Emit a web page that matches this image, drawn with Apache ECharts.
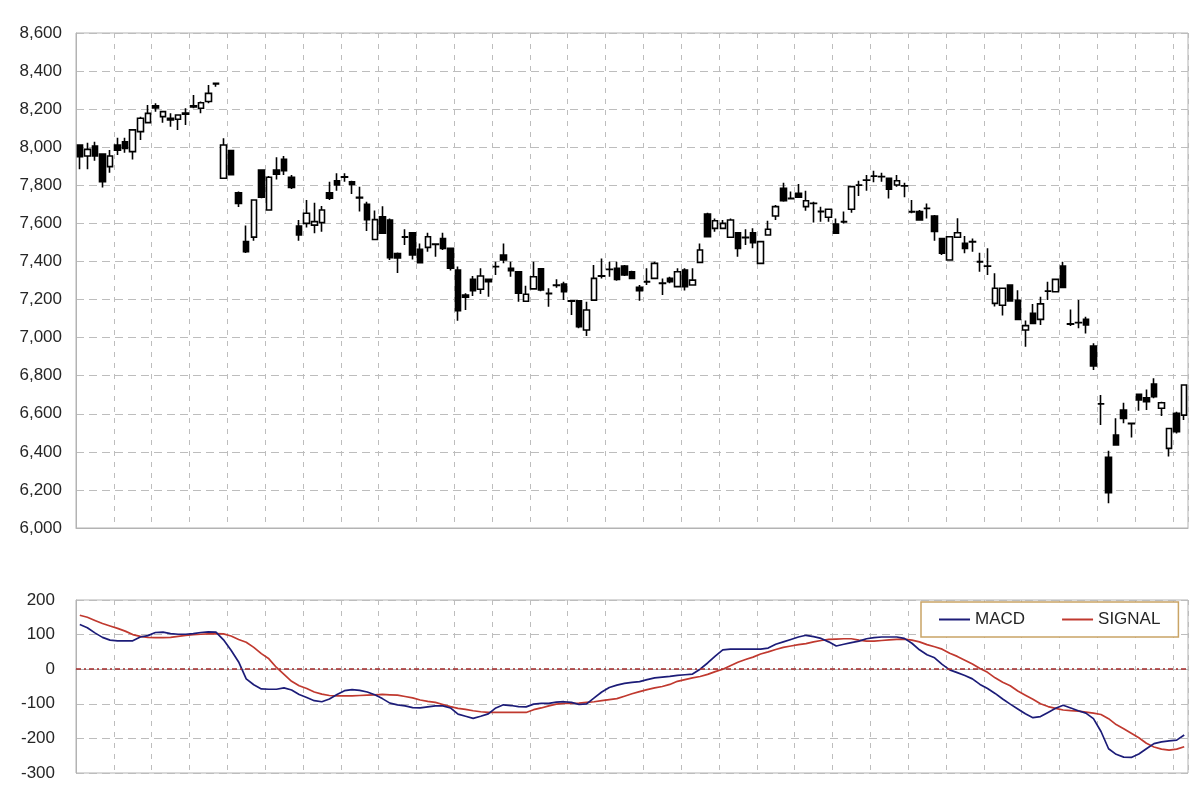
<!DOCTYPE html>
<html>
<head>
<meta charset="utf-8">
<script src="https://cdn.jsdelivr.net/npm/echarts@6/dist/echarts.min.js"></script>
<style>
  html, body { margin: 0; padding: 0; background: #fff; }
  #chart { width: 1200px; height: 785px; }
</style>
</head>
<body>
<div id="chart"></div>
<script>
// --- price data, one entry per session ---
var openPx = [
  8012, 7954, 8006, 7964, 7898, 8012, 8029, 7977, 8082, 8129,
  8218, 8161, 8152, 8147, 8174, 8218, 8205, 8240, 8336, 7837,
  7982, 7761, 7504, 7528, 7880, 7670, 7880, 7936, 7842, 7586,
  7600, 7591, 7604, 7761, 7824, 7845, 7819, 7737, 7700, 7515,
  7635, 7618, 7441, 7530, 7550, 7464, 7474, 7492, 7521, 7469,
  7355, 7224, 7306, 7254, 7306, 7373, 7434, 7364, 7346, 7191,
  7256, 7361, 7233, 7276, 7281, 7194, 7194, 7040, 7197, 7325,
  7359, 7364, 7376, 7346, 7264, 7294, 7311, 7286, 7311, 7268,
  7355, 7276, 7395, 7649, 7574, 7574, 7527, 7551, 7527, 7551,
  7390, 7539, 7639, 7784, 7732, 7758, 7688, 7706, 7663, 7632,
  7597, 7609, 7674, 7801, 7828, 7849, 7846, 7837, 7802, 7797,
  7662, 7662, 7679, 7639, 7521, 7408, 7527, 7495, 7504, 7399,
  7376, 7180, 7170, 7276, 7196, 7040, 7128, 7096, 7245, 7241,
  7376, 7072, 7079, 7096, 6956, 6652, 6371, 6488, 6620, 6550,
  6702, 6684, 6756, 6629, 6418, 6602, 6593
];
var closePx = [
  7950, 7989, 7954, 7819, 7954, 7985, 7994, 8091, 8152, 8178,
  8206, 8187, 8143, 8169, 8180, 8212, 8234, 8283, 8333, 8012,
  7856, 7705, 7451, 7723, 7737, 7842, 7859, 7877, 7789, 7539,
  7653, 7609, 7670, 7732, 7802, 7842, 7805, 7734, 7620, 7620,
  7548, 7420, 7419, 7528, 7434, 7394, 7530, 7490, 7469, 7364,
  7142, 7212, 7247, 7324, 7294, 7372, 7408, 7352, 7233, 7228,
  7320, 7250, 7231, 7274, 7241, 7191, 7057, 7145, 7311, 7323,
  7358, 7306, 7329, 7311, 7246, 7292, 7390, 7284, 7294, 7346,
  7268, 7302, 7460, 7530, 7614, 7600, 7618, 7469, 7525, 7499,
  7504, 7569, 7688, 7719, 7730, 7737, 7719, 7705, 7661, 7674,
  7548, 7608, 7793, 7800, 7827, 7848, 7845, 7779, 7824, 7796,
  7660, 7618, 7678, 7557, 7443, 7530, 7551, 7469, 7503, 7398,
  7375, 7259, 7259, 7193, 7096, 7063, 7075, 7177, 7244, 7306,
  7264, 7071, 7078, 7066, 6851, 6651, 6186, 6436, 6576, 6548,
  6672, 6664, 6690, 6658, 6523, 6506, 6751
];
var lowPx = [
  7884, 7884, 7929, 7789, 7866, 7959, 7971, 7936, 8038, 8129,
  8187, 8129, 8108, 8091, 8117, 8205, 8178, 8231, 8318, 7837,
  7856, 7686, 7445, 7509, 7732, 7667, 7831, 7854, 7780, 7509,
  7579, 7548, 7556, 7723, 7772, 7819, 7754, 7662, 7560, 7513,
  7548, 7408, 7340, 7486, 7410, 7390, 7451, 7425, 7460, 7352,
  7089, 7145, 7219, 7229, 7215, 7329, 7390, 7320, 7189, 7189,
  7256, 7244, 7162, 7262, 7197, 7119, 7049, 7008, 7197, 7311,
  7320, 7299, 7324, 7306, 7194, 7276, 7311, 7224, 7285, 7268,
  7247, 7276, 7390, 7527, 7556, 7574, 7527, 7425, 7486, 7469,
  7387, 7539, 7618, 7714, 7726, 7737, 7667, 7604, 7609, 7609,
  7548, 7600, 7656, 7744, 7772, 7816, 7819, 7731, 7793, 7737,
  7653, 7614, 7626, 7509, 7434, 7408, 7527, 7443, 7451, 7346,
  7329, 7163, 7116, 7193, 7096, 6952, 7075, 7066, 7198, 7241,
  7264, 7061, 7049, 7022, 6830, 6541, 6130, 6436, 6550, 6476,
  6616, 6620, 6681, 6588, 6375, 6497, 6567
];
var highPx = [
  8012, 8024, 8029, 7968, 7985, 8050, 8050, 8091, 8160, 8222,
  8231, 8187, 8178, 8169, 8205, 8274, 8240, 8327, 8340, 8047,
  7985, 7767, 7589, 7725, 7880, 7849, 7947, 7954, 7854, 7618,
  7723, 7709, 7691, 7819, 7863, 7863, 7824, 7793, 7714, 7668,
  7690, 7626, 7447, 7569, 7552, 7495, 7551, 7495, 7551, 7469,
  7373, 7233, 7324, 7364, 7311, 7399, 7495, 7399, 7346, 7273,
  7399, 7361, 7259, 7307, 7294, 7194, 7194, 7189, 7381, 7416,
  7399, 7399, 7381, 7351, 7276, 7364, 7399, 7311, 7320, 7364,
  7364, 7364, 7495, 7656, 7626, 7618, 7626, 7551, 7569, 7574,
  7504, 7614, 7697, 7814, 7767, 7807, 7772, 7714, 7688, 7674,
  7626, 7662, 7793, 7824, 7854, 7876, 7866, 7837, 7854, 7814,
  7723, 7670, 7705, 7644, 7521, 7534, 7627, 7534, 7521, 7446,
  7469, 7338, 7259, 7276, 7249, 7090, 7177, 7215, 7294, 7311,
  7399, 7148, 7198, 7110, 6970, 6699, 6406, 6576, 6658, 6553,
  6707, 6728, 6786, 6663, 6523, 6611, 6751
];

// --- MACD panel ---
var macd = [
  129, 120, 105, 92, 84, 82, 82, 82, 93, 97,
  106, 107, 103, 101, 101, 103, 106, 108, 107, 85,
  55, 21, -28, -45, -57, -58, -58, -54, -60, -73,
  -82, -91, -94, -86, -73, -62, -59, -61, -66, -74,
  -85, -98, -103, -106, -111, -112, -109, -106, -106, -112,
  -130, -136, -142, -136, -129, -112, -103, -105, -108, -109,
  -101, -99, -99, -95, -94, -96, -102, -100, -83, -66,
  -53, -46, -41, -38, -36, -30, -25, -23, -21, -18,
  -16, -14, 0, 18, 38, 56, 58, 58, 58, 58,
  58, 61, 72, 79, 86, 93, 98, 94, 89, 79,
  67, 72, 77, 81, 88, 91, 93, 93, 93, 89,
  75, 56, 42, 33, 14, -2, -10, -18, -28, -44,
  -56, -70, -86, -101, -115, -129, -140, -137, -125, -113,
  -104, -112, -120, -127, -143, -180, -230, -246, -254, -255,
  -245, -230, -215, -210, -207, -205, -190
];
var signal = [
  156, 150, 141, 132, 125, 118, 110, 100, 95, 92,
  91, 91, 92, 95, 98, 100, 101, 102, 103, 102,
  96, 86, 78, 63, 45, 30, 5, -15, -35, -48,
  -56, -66, -72, -76, -77, -77, -77, -76, -75, -74,
  -73, -74, -75, -79, -83, -89, -93, -96, -102, -108,
  -113, -116, -120, -123, -125, -125, -125, -125, -125, -125,
  -117, -112, -106, -101, -99, -99, -98, -96, -94, -91,
  -88, -85, -78, -71, -65, -59, -54, -50, -44, -35,
  -30, -25, -21, -15, -7, 0, 10, 20, 28, 35,
  44, 50, 57, 63, 67, 71, 74, 79, 83, 86,
  87, 88, 88, 84, 81, 81, 83, 85, 86, 87,
  84, 79, 71, 65, 58, 46, 37, 26, 15, 2,
  -9, -25, -38, -48, -63, -75, -87, -100, -108, -113,
  -118, -120, -121, -124, -127, -131, -143, -160, -172, -185,
  -198, -214, -225, -231, -234, -231, -224
];

var days = openPx.map(function(_, i) { return String(i + 1); });
var candles = openPx.map(function(o, i) {
  return [o, closePx[i], lowPx[i], highPx[i]];
});

var gridColor = '#bdbdbd';
var frameColor = '#b3b3b3';
var labelFont = { color: '#262626', fontSize: 17, fontFamily: 'Liberation Sans, Arial, sans-serif' };

function everyFifth(idx) { return idx > 0 && idx % 5 === 0; }

function xAxisFor(gridIndex) {
  return {
    type: 'category',
    gridIndex: gridIndex,
    data: days,
    boundaryGap: true,
    axisLine: { lineStyle: { color: frameColor } },
    axisTick: { show: false },
    axisLabel: { show: false },
    splitLine: {
      show: true,
      interval: everyFifth,
      lineStyle: { color: gridColor, type: [5, 6], width: 1 }
    }
  };
}

var chart = echarts.init(document.getElementById('chart'));
chart.setOption({
  animation: false,
  backgroundColor: '#fff',
  grid: [
    { left: 76, right: 12, top: 33, bottom: 257, show: true, borderColor: frameColor, borderWidth: 1 },
    { left: 76, right: 12, top: 600, bottom: 12, show: true, borderColor: frameColor, borderWidth: 1 }
  ],
  legend: {
    data: ['MACD', 'SIGNAL'],
    left: 921,
    top: 602,
    icon: 'rect',
    itemWidth: 31,
    itemHeight: 2,
    itemGap: 37,
    padding: [9, 18, 9, 18],
    borderColor: '#c9a466',
    borderWidth: 1.5,
    backgroundColor: '#fff',
    textStyle: labelFont
  },
  xAxis: [xAxisFor(0), xAxisFor(1)],
  yAxis: [
    {
      type: 'value',
      gridIndex: 0,
      min: 6000,
      max: 8600,
      interval: 200,
      axisLine: { show: true, lineStyle: { color: frameColor } },
      axisTick: { show: false },
      axisLabel: Object.assign({ margin: 14, formatter: function(v) { return v.toLocaleString('en-US'); } }, labelFont),
      splitLine: { lineStyle: { color: gridColor, type: [8, 5] } }
    },
    {
      type: 'value',
      gridIndex: 1,
      min: -300,
      max: 200,
      interval: 100,
      axisLine: { show: true, lineStyle: { color: frameColor } },
      axisTick: { show: false },
      axisLabel: Object.assign({ margin: 21 }, labelFont),
      splitLine: { lineStyle: { color: gridColor, type: [8, 5] } }
    }
  ],
  series: [
    {
      type: 'candlestick',
      xAxisIndex: 0,
      yAxisIndex: 0,
      data: candles,
      barWidth: 6,
      itemStyle: {
        color: '#fff',
        color0: '#000',
        borderColor: '#000',
        borderColor0: '#000',
        borderWidth: 1.6
      }
    },
    {
      name: 'MACD',
      type: 'line',
      xAxisIndex: 1,
      yAxisIndex: 1,
      data: macd,
      symbol: 'none',
      color: '#1c1c78',
      lineStyle: { color: '#1c1c78', width: 1.7 },
      z: 4,
      markLine: {
        silent: true,
        symbol: 'none',
        label: { show: false },
        lineStyle: { color: '#a52a2a', type: [5, 3, 2, 3], width: 1.6, opacity: 1 },
        data: [{ yAxis: 0 }]
      }
    },
    {
      name: 'SIGNAL',
      type: 'line',
      xAxisIndex: 1,
      yAxisIndex: 1,
      data: signal,
      symbol: 'none',
      color: '#c0392f',
      lineStyle: { color: '#c0392f', width: 1.7 },
      z: 3
    }
  ]
});
</script>
</body>
</html>
